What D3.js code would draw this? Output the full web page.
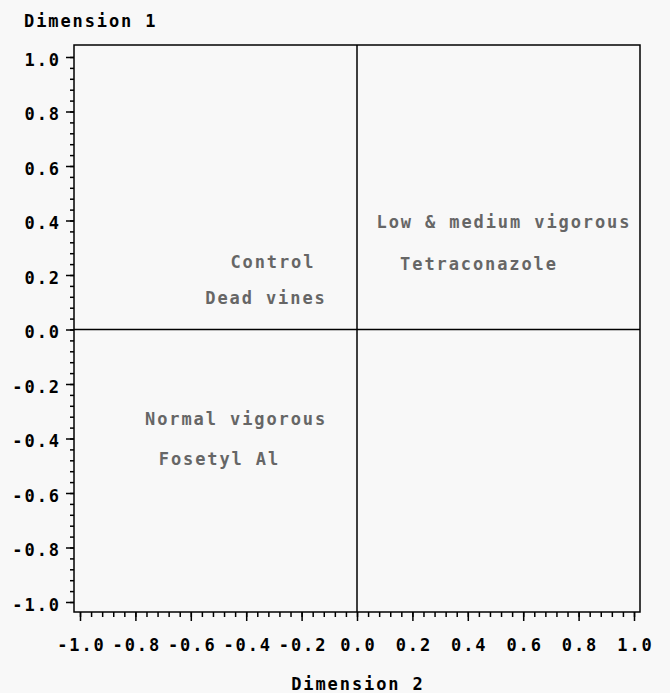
<!DOCTYPE html>
<html>
<head>
<meta charset="utf-8">
<script src="https://cdn.jsdelivr.net/npm/d3@7"></script>
<style>
  body { margin: 0; background: #f8f8f8; }
  text { font-family: "DejaVu Sans Mono", monospace; }
</style>
</head>
<body>
<div id="chart"></div>
<script>
// point labels, placed at (dimension 2, dimension 1)
const labels = ["Low & medium vigorous", "Tetraconazole", "Control", "Dead vines", "Normal vigorous", "Fosetyl Al"]
const dim2 = [0.527, 0.437, -0.307, -0.332, -0.440, -0.500]
const dim1 = [0.396, 0.242, 0.248, 0.116, -0.330, -0.475]

const xTicks = [-1.0, -0.8, -0.6, -0.4, -0.2, 0.0, 0.2, 0.4, 0.6, 0.8, 1.0]
const yTicks = [-1.0, -0.8, -0.6, -0.4, -0.2, 0.0, 0.2, 0.4, 0.6, 0.8, 1.0]
const minorTicks = d3.range(0, 51).map(i => -1 + i * 0.04)

const width = 670, height = 693
const frame = { left: 74, right: 640, top: 45, bottom: 612 }
const fs = 17, ls = 1.9

const svg = d3.select("#chart").append("svg")
    .attr("width", width)
    .attr("height", height)

svg.append("rect").attr("width", width).attr("height", height).attr("fill", "#f8f8f8")

const x = d3.scaleLinear().domain([-1, 1]).range([80, 634])
const y = d3.scaleLinear().domain([-1, 1]).range([602, 57])

// frame
svg.append("rect")
    .attr("x", frame.left).attr("y", frame.top)
    .attr("width", frame.right - frame.left).attr("height", frame.bottom - frame.top)
    .attr("fill", "none").attr("stroke", "#000").attr("stroke-width", 1.5)

// reference lines at zero
svg.append("line")
    .attr("x1", x(0)).attr("x2", x(0)).attr("y1", frame.top).attr("y2", frame.bottom)
    .attr("stroke", "#000").attr("stroke-width", 1.5)
svg.append("line")
    .attr("x1", frame.left).attr("x2", frame.right).attr("y1", y(0)).attr("y2", y(0))
    .attr("stroke", "#000").attr("stroke-width", 1.5)

// x axis
const gxMinor = svg.append("g").attr("transform", `translate(0,${frame.bottom})`)
    .call(d3.axisBottom(x).tickValues(minorTicks).tickSize(5).tickSizeOuter(0).tickFormat(""))
const gx = svg.append("g").attr("transform", `translate(0,${frame.bottom})`)
    .call(d3.axisBottom(x).tickValues(xTicks).tickSize(9).tickSizeOuter(0).tickFormat(d => d.toFixed(1)))
gx.selectAll("text")
    .attr("y", 39).attr("dy", 0).attr("dx", ls / 2)

// y axis
const gyMinor = svg.append("g").attr("transform", `translate(${frame.left},0)`)
    .call(d3.axisLeft(y).tickValues(minorTicks).tickSize(4).tickSizeOuter(0).tickFormat(""))
const gy = svg.append("g").attr("transform", `translate(${frame.left},0)`)
    .call(d3.axisLeft(y).tickValues(yTicks).tickSize(8).tickSizeOuter(0).tickFormat(d => d.toFixed(1)))
gy.selectAll("text")
    .attr("x", -15).attr("dy", 8).attr("dx", ls)

for (const g of [gx, gy, gxMinor, gyMinor]) {
    g.select(".domain").remove()
    g.selectAll("line").attr("stroke", "#000").attr("stroke-width", 1.5)
    g.selectAll("text")
        .attr("fill", "#000")
        .style("font-size", fs + "px")
        .style("font-weight", "bold")
        .style("letter-spacing", ls + "px")
}

// axis titles
svg.append("text")
    .attr("x", 24).attr("y", 27)
    .style("font-size", fs + "px").style("font-weight", "bold").style("letter-spacing", ls + "px")
    .text("Dimension 1")
svg.append("text")
    .attr("x", x(0) + ls / 2).attr("y", 690).attr("text-anchor", "middle")
    .style("font-size", fs + "px").style("font-weight", "bold").style("letter-spacing", ls + "px")
    .text("Dimension 2")

// point labels
svg.append("g").selectAll("text")
    .data(labels)
    .join("text")
    .attr("x", (d, i) => x(dim2[i]) + ls / 2)
    .attr("y", (d, i) => y(dim1[i]) + 6)
    .attr("text-anchor", "middle")
    .attr("fill", "#666")
    .style("font-size", fs + "px")
    .style("font-weight", "bold")
    .style("letter-spacing", ls + "px")
    .text(d => d)
</script>
</body>
</html>
